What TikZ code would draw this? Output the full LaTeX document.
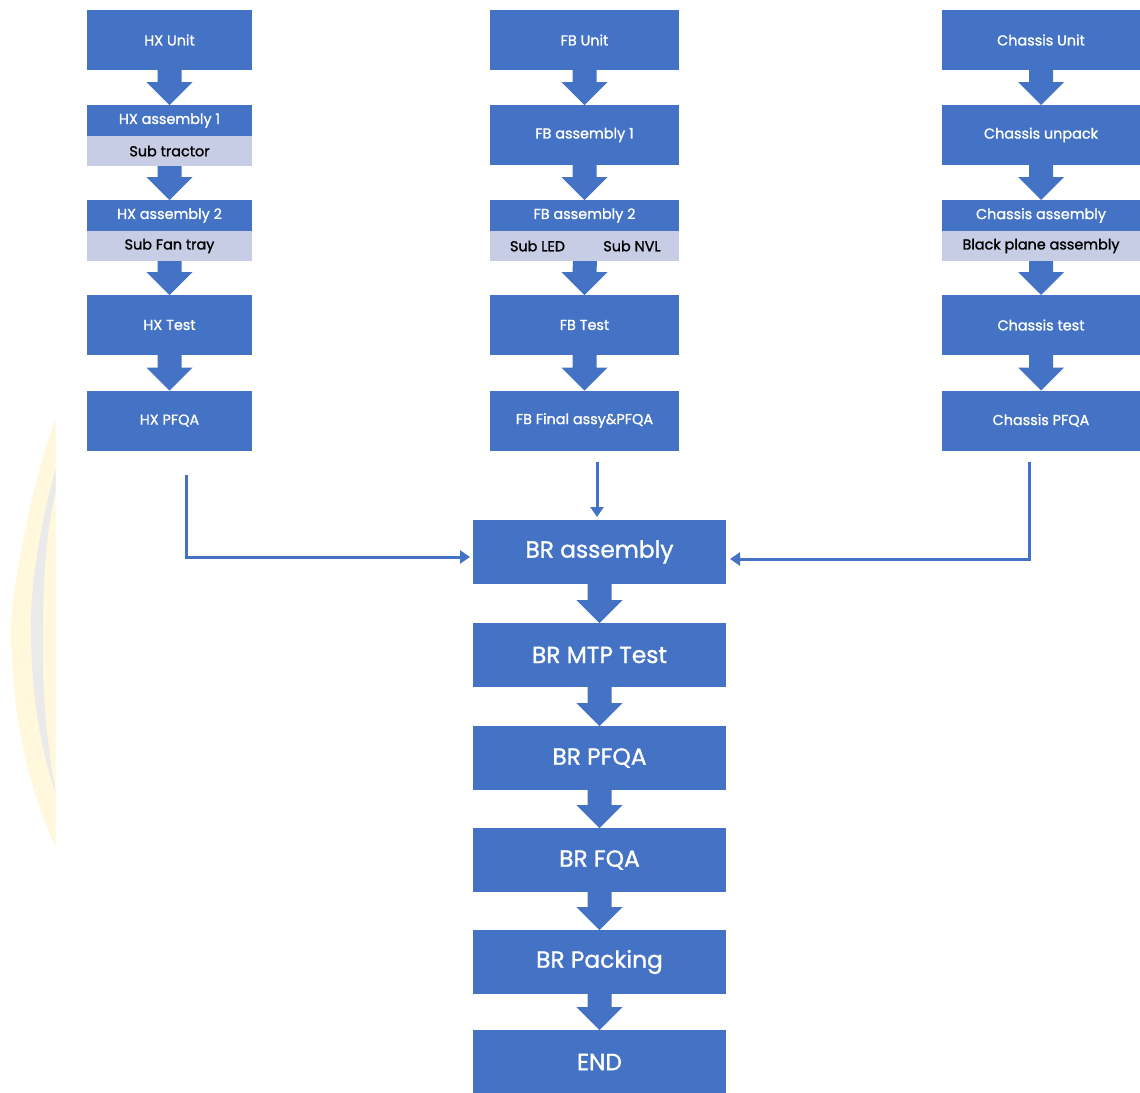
\documentclass[tikz,border=0pt]{standalone}
\usepackage{fontspec}
\setmainfont{Poppins}[FakeBold=1.2]
\usetikzlibrary{calc,arrows.meta}
\definecolor{flowblue}{RGB}{68,114,196}
\definecolor{sublight}{RGB}{198,205,228}
\definecolor{markyellow}{RGB}{255,248,220}
\definecolor{markgray}{RGB}{234,234,234}

\tikzset{
  box/.style={rectangle, fill=flowblue, text=white, inner sep=0pt, outer sep=0pt,
              font=\fontsize{10.8}{12}\selectfont},
  subbox/.style={rectangle, fill=sublight, text=black, inner sep=0pt, outer sep=0pt,
              font=\fontsize{10.8}{12}\selectfont},
  bigbox/.style={box, minimum width=189.75pt, minimum height=48pt,
              font=\fontsize{17.5}{20}\selectfont},
  colL/.style={minimum width=123.75pt},
  colM/.style={minimum width=141.75pt},
  colR/.style={minimum width=148.5pt},
  tall/.style={minimum height=45pt},
  top/.style={minimum height=23.25pt},
  low/.style={minimum height=22.5pt},
  link/.style={draw=flowblue, line width=2.25pt, -{Triangle[length=7.5pt,width=9.75pt]}},
}
% wide block arrow from the bottom of one box to the top of the next
\newcommand{\flowarrow}[2]{%
  \fill[flowblue] ($(#1)+(-12,0)$) -- ($(#1)+(12,0)$) -- ($(#2)+(12,-23)$)
    -- ($(#2)+(23,-23)$) -- (#2) -- ($(#2)+(-23,-23)$) -- ($(#2)+(-12,-23)$) -- cycle;}

\begin{document}
\begin{tikzpicture}[x=0.75pt,y=-0.75pt]
\useasboundingbox (0,0) rectangle (1140,1093);

% faint crest at the left margin
\begin{scope}
  \clip (0,400) rectangle (55.5,870);
  \fill[markyellow] (56,417) .. controls (20,520) and (5,640) .. (12,650)
      .. controls (14,740) and (35,800) .. (56,848) -- cycle;
  \fill[markgray] (56,467) .. controls (36,540) and (30,600) .. (31,630)
      .. controls (31,690) and (40,750) .. (56,793)
      .. controls (46,740) and (42,690) .. (43,630)
      .. controls (43,580) and (46,530) .. (56,490) -- cycle;
\end{scope}

% HX column
\node[box,colL,tall] (hxu) at (169.5,40) {HX Unit};
\node[box,colL,top] (hxa1) at (169.5,120.5) {HX assembly 1};
\node[subbox,colL,low] (hxa1s) at (169.5,151) {Sub tractor};
\node[box,colL,top] (hxa2) at (169.5,215.5) {HX assembly 2};
\node[subbox,colL,low] (hxa2s) at (169.5,246) {Sub Fan tray};
\node[box,colL,tall] (hxt) at (169.5,325) {HX Test};
\node[box,colL,tall] (hxp) at (169.5,420.5) {HX PFQA};

% FB column
\node[box,colM,tall] (fbu) at (584.5,40) {FB Unit};
\node[box,colM,tall] (fba1) at (584.5,135) {FB assembly 1};
\node[box,colM,top] (fba2) at (584.5,215.5) {FB assembly 2};
\node[subbox,minimum width=71.25pt,low] (fbled) at (537.5,246) {Sub LED};
\node[subbox,minimum width=70.5pt,low] (fbnvl) at (632,246) {Sub NVL};
\node[box,colM,tall] (fbt) at (584.5,325) {FB Test};
\node[box,colM,tall] (fbf) at (584.5,420.5) {FB Final assy\&PFQA};

% Chassis column
\node[box,colR,tall] (chu) at (1041,40) {Chassis Unit};
\node[box,colR,tall] (chp1) at (1041,135) {Chassis unpack};
\node[box,colR,top] (cha) at (1041,215.5) {Chassis assembly};
\node[subbox,colR,low] (chas) at (1041,246) {Black plane assembly};
\node[box,colR,tall] (cht) at (1041,325) {Chassis test};
\node[box,colR,tall] (chp) at (1041,420.5) {Chassis PFQA};

% BR column
\node[bigbox] (bra) at (599.5,552) {BR assembly};
\node[bigbox] (brm) at (599.5,655) {BR MTP Test};
\node[bigbox] (brp) at (599.5,758) {BR PFQA};
\node[bigbox] (brf) at (599.5,860) {BR FQA};
\node[bigbox] (brk) at (599.5,962) {BR Packing};
\node[bigbox] (brend) at (599.5,1062) {END};

% block arrows
\flowarrow{hxu.south}{hxa1.north}
\flowarrow{hxa1s.south}{hxa2.north}
\flowarrow{hxa2s.south}{hxt.north}
\flowarrow{hxt.south}{hxp.north}
\flowarrow{fbu.south}{fba1.north}
\flowarrow{fba1.south}{fba2.north}
\flowarrow{fbled.south east}{fbt.north}
\flowarrow{fbt.south}{fbf.north}
\flowarrow{chu.south}{chp1.north}
\flowarrow{chp1.south}{cha.north}
\flowarrow{chas.south}{cht.north}
\flowarrow{cht.south}{chp.north}
\flowarrow{bra.south}{brm.north}
\flowarrow{brm.south}{brp.north}
\flowarrow{brp.south}{brf.north}
\flowarrow{brf.south}{brk.north}
\flowarrow{brk.south}{brend.north}

% feeds into the BR assembly
\coordinate (hxfeed) at ($(hxp.south)+(16.5,24)$);
\coordinate (fbfeed) at ($(fbf.south)+(12.5,11)$);
\coordinate (chfeed) at ($(chp.south)+(-12,11)$);
\draw[link] (hxfeed) |- ($(bra.west)+(-3,5)$);
\draw[link] (fbfeed) -- ($(bra.north)+(-2.5,-3)$);
\draw[link] (chfeed) |- ($(bra.east)+(4,7)$);
\end{tikzpicture}
\end{document}
